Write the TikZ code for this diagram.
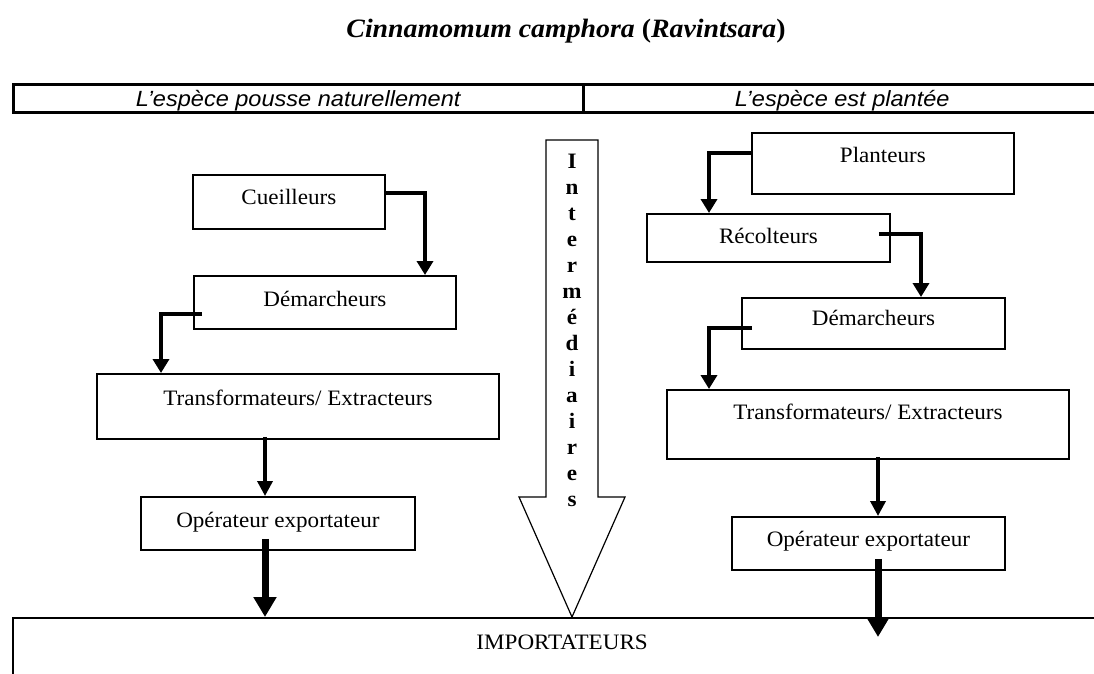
\documentclass[tikz,border=0pt]{standalone}
\usepackage{fontspec}
\setmainfont{Liberation Serif}[FakeStretch=1.05]
\newfontfamily\hdfont{Liberation Sans}[FakeStretch=1.07]
\usetikzlibrary{arrows.meta,calc}
\begin{document}
\begin{tikzpicture}[x=1pt,y=-1pt,
  box/.style={draw, line width=1.8pt, inner sep=0pt, anchor=north west,
    font=\fontsize{22}{26}\selectfont},
  hd/.style={draw, line width=2.5pt, inner sep=0pt, anchor=north west,
    text height=22pt, text depth=6pt,
    font=\hdfont\itshape\fontsize{22}{26}\selectfont},
  elbow/.style={line width=4.5pt, -{Triangle[width=16pt,length=14pt]}},
  thinarr/.style={line width=3.5pt, -{Triangle[width=15pt,length=15pt]}},
  thickarr/.style={line width=7pt, -{Triangle[width=22pt,length=20pt]}}]
\useasboundingbox (0,0) rectangle (1094,673);

% title
\node[font=\bfseries\itshape\fontsize{26.5}{31}\selectfont, anchor=base, inner sep=0pt]
  (title) at (566,37) {Cinnamomum camphora \textup{(}Ravintsara\textup{)}};

% header bar
\node[hd, minimum width=570pt] (hd1) at (12,83) {L’espèce pousse naturellement};
\node[hd, minimum width=518pt] (hd2) at (582,83) {L’espèce est plantée};

% intermediaires arrow
\draw[line width=1.2pt, fill=white] (546,140) -- (598,140) -- (598,497) -- (625,497)
  -- (572,617) -- (519,497) -- (546,497) -- cycle;
\node[font=\bfseries\fontsize{22}{26}\selectfont, align=center, inner sep=0pt, anchor=north]
  (inter) at (572,154) {I\\n\\t\\e\\r\\m\\é\\d\\i\\a\\i\\r\\e\\s};

% left column
\node[box, minimum width=192pt, text height=30pt, text depth=24pt] (cue) at (192,174) {Cueilleurs};
\node[box, minimum width=262pt, text height=31pt, text depth=22pt] (dem1) at (193,275) {Démarcheurs};
\node[box, minimum width=402pt, text height=32pt, text depth=33pt] (tr1) at (96,373) {Transformateurs/ Extracteurs};
\node[box, minimum width=274pt, text height=31pt, text depth=22pt] (op1) at (140,496) {Opérateur exportateur};

% right column
\node[box, minimum width=262pt, text height=30pt, text depth=31pt] (pla) at (751,132) {Planteurs};
\node[box, minimum width=243pt, text height=30pt, text depth=18pt] (rec) at (646,213) {Récolteurs};
\node[box, minimum width=263pt, text height=28pt, text depth=23pt] (dem2) at (741,297) {Démarcheurs};
\node[box, minimum width=402pt, text height=30pt, text depth=39pt] (tr2) at (666,389) {Transformateurs/ Extracteurs};
\node[box, minimum width=273pt, text height=30pt, text depth=23pt] (op2) at (731,516) {Opérateur exportateur};

% importateurs
\node[box, line width=2.2pt, minimum width=1098pt, text height=31pt, text depth=52pt] (imp) at (12,617) {IMPORTATEURS};

% left connectors
\draw[elbow] ($(cue.north east)+(0,19)$) -| ($(dem1.north west)+(232,0)$);
\draw[elbow] ($(dem1.south west)+(9,-16)$) -| ($(tr1.north west)+(65,0)$);
\draw[thinarr] ($(tr1.south west)+(169,-3)$) -- ($(op1.north west)+(125,0)$);
\draw[thickarr] ($(op1.south west)+(125,-12)$) -- ($(imp.north west)+(253,0)$);

% right connectors
\draw[elbow] ($(pla.north west)+(0,21)$) -| ($(rec.north west)+(63,0)$);
\draw[elbow] ($(rec.north east)+(-12,21)$) -| ($(dem2.north west)+(180,0)$);
\draw[elbow] ($(dem2.north west)+(11,31)$) -| ($(tr2.north west)+(43,0)$);
\draw[thinarr] ($(tr2.south west)+(212,-3)$) -- ($(op2.north west)+(147,0)$);
\coordinate (end2) at ($(imp.north west)+(866,20)$);
\draw[thickarr] ($(op2.south west)+(147,-12)$) -- (end2);
\end{tikzpicture}
\end{document}
